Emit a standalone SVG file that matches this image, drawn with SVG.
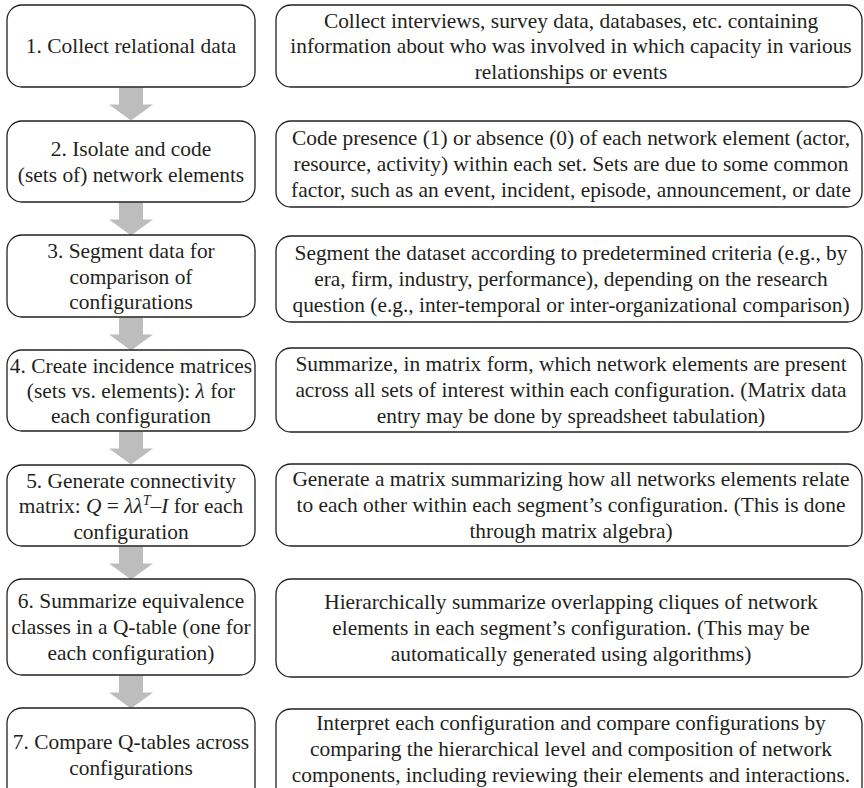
<svg xmlns="http://www.w3.org/2000/svg" width="864" height="788" viewBox="0 0 864 788">
<style>
.box{fill:#fff;stroke:#231f20;stroke-width:1.3}
.t{font-family:'Liberation Serif','Tinos','Times New Roman','DejaVu Serif','Noto Serif',serif;font-size:21.4px;fill:#231f20;text-anchor:middle}
.i{font-style:italic}
.arr{fill:#bdbdbd}
</style>
<defs>
<path id="down" d="M-12,0 H12 V17 H22 L0,33 L-22,17 H-12 Z"/>
</defs>
<rect width="864" height="788" fill="#fff"/>
<g id="connectors">
<use href="#down" class="arr" transform="translate(131,87.5)"/>
<use href="#down" class="arr" transform="translate(131,202.5)"/>
<use href="#down" class="arr" transform="translate(131,317.5)"/>
<use href="#down" class="arr" transform="translate(131,431.5)"/>
<use href="#down" class="arr" transform="translate(131,546.5)"/>
<use href="#down" class="arr" transform="translate(131,675.5)"/>
</g>
<g id="step1">
<rect class="box" x="7" y="5" width="248" height="82" rx="15"/>
<text class="t" x="131" y="53">1. Collect relational data</text>
</g>
<g id="desc1">
<rect class="box" x="276" y="5" width="586" height="82" rx="15"/>
<text class="t" x="571" y="27.5">Collect interviews, survey data, databases, etc. containing</text>
<text class="t" x="571" y="53">information about who was involved in which capacity in various</text>
<text class="t" x="571" y="78.5">relationships or events</text>
</g>
<g id="step2">
<rect class="box" x="7" y="121" width="248" height="81" rx="15"/>
<text class="t" x="131" y="155.5">2. Isolate and code</text>
<text class="t" x="131" y="181.5">(sets of) network elements</text>
</g>
<g id="desc2">
<rect class="box" x="276" y="121" width="586" height="86" rx="15"/>
<text class="t" x="571" y="145">Code presence (1) or absence (0) of each network element (actor,</text>
<text class="t" x="571" y="171">resource, activity) within each set. Sets are due to some common</text>
<text class="t" x="571" y="197">factor, such as an event, incident, episode, announcement, or date</text>
</g>
<g id="step3">
<rect class="box" x="7" y="235" width="248" height="82" rx="15"/>
<text class="t" x="131" y="258">3. Segment data for</text>
<text class="t" x="131" y="283.5">comparison of</text>
<text class="t" x="131" y="309">configurations</text>
</g>
<g id="desc3">
<rect class="box" x="276" y="236" width="586" height="86" rx="15"/>
<text class="t" x="571" y="260">Segment the dataset according to predetermined criteria (e.g., by</text>
<text class="t" x="571" y="286">era, firm, industry, performance), depending on the research</text>
<text class="t" x="571" y="312">question (e.g., inter-temporal or inter-organizational comparison)</text>
</g>
<g id="step4">
<rect class="box" x="7" y="350" width="248" height="81" rx="15"/>
<text class="t" x="131" y="373">4. Create incidence matrices</text>
<text class="t" x="131" y="398">(sets vs. elements): <tspan class="i">λ</tspan> for</text>
<text class="t" x="131" y="423">each configuration</text>
</g>
<g id="desc4">
<rect class="box" x="276" y="348" width="586" height="84" rx="15"/>
<text class="t" x="571" y="371">Summarize, in matrix form, which network elements are present</text>
<text class="t" x="571" y="397">across all sets of interest within each configuration. (Matrix data</text>
<text class="t" x="571" y="423">entry may be done by spreadsheet tabulation)</text>
</g>
<g id="step5">
<rect class="box" x="7" y="465" width="248" height="81" rx="15"/>
<text class="t" x="131" y="487.5">5. Generate connectivity</text>
<text class="t" x="131" y="513"><tspan>matrix: </tspan><tspan class="i">Q</tspan><tspan> = </tspan><tspan class="i">λλ</tspan><tspan class="i" font-size="14" dy="-8">T</tspan><tspan dy="8">–</tspan><tspan class="i">I</tspan><tspan> for each</tspan></text>
<text class="t" x="131" y="538.5">configuration</text>
</g>
<g id="desc5">
<rect class="box" x="276" y="464" width="586" height="82" rx="15"/>
<text class="t" x="571" y="486">Generate a matrix summarizing how all networks elements relate</text>
<text class="t" x="571" y="512">to each other within each segment’s configuration. (This is done</text>
<text class="t" x="571" y="538">through matrix algebra)</text>
</g>
<g id="step6">
<rect class="box" x="7" y="579" width="248" height="96" rx="15"/>
<text class="t" x="131" y="608">6. Summarize equivalence</text>
<text class="t" x="131" y="634">classes in a Q-table (one for</text>
<text class="t" x="131" y="660">each configuration)</text>
</g>
<g id="desc6">
<rect class="box" x="276" y="579" width="586" height="98" rx="15"/>
<text class="t" x="571" y="609">Hierarchically summarize overlapping cliques of network</text>
<text class="t" x="571" y="635">elements in each segment’s configuration. (This may be</text>
<text class="t" x="571" y="661">automatically generated using algorithms)</text>
</g>
<g id="step7">
<rect class="box" x="7" y="708" width="248" height="96" rx="15"/>
<text class="t" x="131" y="749">7. Compare Q-tables across</text>
<text class="t" x="131" y="775">configurations</text>
</g>
<g id="desc7">
<rect class="box" x="276" y="709" width="586" height="96" rx="15"/>
<text class="t" x="571" y="730">Interpret each configuration and compare configurations by</text>
<text class="t" x="571" y="756">comparing the hierarchical level and composition of network</text>
<text class="t" x="571" y="782">components, including reviewing their elements and interactions.</text>
</g>
</svg>
